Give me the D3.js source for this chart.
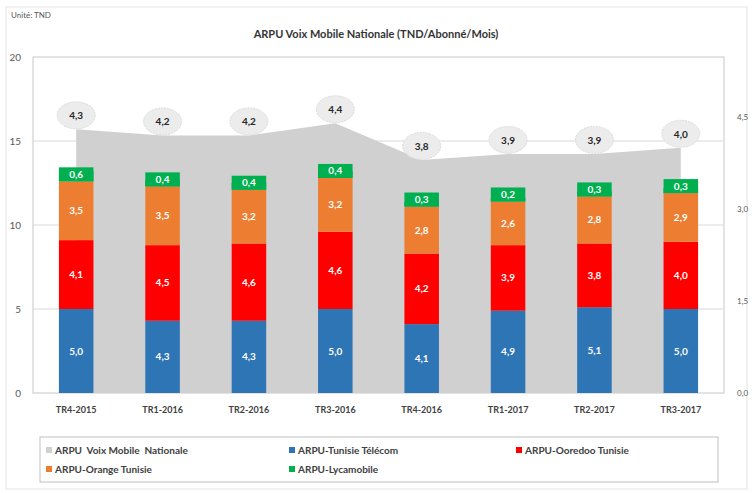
<!DOCTYPE html>
<html>
<head>
<meta charset="utf-8">
<script src="https://cdn.jsdelivr.net/npm/d3@7"></script>
<style>
  body { margin: 0; background: #fff; }
  svg { font-family: Lato, "Open Sans", sans-serif; }
</style>
</head>
<body>
<svg id="chart"></svg>
<script>
const width = 752;
const height = 493;

const quarters = ['TR4-2015', 'TR1-2016', 'TR2-2016', 'TR3-2016', 'TR4-2016', 'TR1-2017', 'TR2-2017', 'TR3-2017'];
const nationale = [4.3, 4.2, 4.2, 4.4, 3.8, 3.9, 3.9, 4.0];
const tunisieTelecom = [5.0, 4.3, 4.3, 5.0, 4.1, 4.9, 5.1, 5.0];
const ooredoo = [4.1, 4.5, 4.6, 4.6, 4.2, 3.9, 3.8, 4.0];
const orange = [3.5, 3.5, 3.2, 3.2, 2.8, 2.6, 2.8, 2.9];
const lycamobile = [0.6, 0.4, 0.4, 0.4, 0.3, 0.2, 0.3, 0.3];
const leftTicks = [0, 5, 10, 15, 20];
const rightTicks = [0, 1.5, 3.0, 4.5];

const series = [
    {name: 'ARPU-Tunisie Télécom', values: tunisieTelecom, color: '#2e75b6'},
    {name: 'ARPU-Ooredoo Tunisie', values: ooredoo, color: '#ff0000'},
    {name: 'ARPU-Orange Tunisie', values: orange, color: '#ed7d31'},
    {name: 'ARPU-Lycamobile', values: lycamobile, color: '#00b050'}
];

const fmt = v => d3.format('.1f')(v).replace('.', ',');

const svg = d3.select('#chart')
            .attr('width', width)
            .attr('height', height);

// outer border
svg.append('rect')
    .attr('x', 6).attr('y', 7)
    .attr('width', 741).attr('height', 482)
    .attr('fill', '#fff')
    .attr('stroke', '#e3e3e3');

svg.append('text')
    .attr('x', 11).attr('y', 18)
    .attr('font-size', 8)
    .attr('fill', '#595959')
    .text('Unité: TND');

svg.append('text')
    .attr('x', 376).attr('y', 38)
    .attr('text-anchor', 'middle')
    .attr('font-size', 11)
    .attr('font-weight', 'bold')
    .attr('fill', '#333')
    .text('ARPU Voix Mobile Nationale (TND/Abonné/Mois)');

const x = d3.scaleBand()
    .domain(quarters)
    .range([33, 724])
    .paddingInner(0.6)
    .paddingOuter(0.3);

const y = d3.scaleLinear().domain([0, 20]).range([393, 57]);
const yRight = d3.scaleLinear().domain([0, 5.48]).range([393, 57]);

// plot frame
svg.append('rect')
    .attr('x', 33).attr('y', 57)
    .attr('width', 691).attr('height', 336)
    .attr('fill', 'none')
    .attr('stroke', '#c8c8c8');

// gridlines
svg.append('g')
    .selectAll('line')
    .data(leftTicks.slice(1, -1))
    .enter()
    .append('line')
    .attr('x1', 33).attr('x2', 724)
    .attr('y1', d => y(d)).attr('y2', d => y(d))
    .attr('stroke', '#d9d9d9');

// left axis
const leftAxis = svg.append('g')
    .attr('transform', 'translate(33, 0)')
    .call(d3.axisLeft(y).tickValues(leftTicks).tickSize(0).tickPadding(12));
leftAxis.select('.domain').remove();
leftAxis.selectAll('text').attr('font-size', 10).attr('fill', '#595959').attr('font-family', 'Lato, sans-serif');

// right axis
const rightAxis = svg.append('g')
    .attr('transform', 'translate(724, 0)')
    .call(d3.axisRight(yRight).tickValues(rightTicks).tickSize(0).tickPadding(13).tickFormat(d => fmt(d)));
rightAxis.select('.domain').remove();
rightAxis.selectAll('text').attr('font-size', 8).attr('fill', '#595959').attr('font-family', 'Lato, sans-serif');

// area
const cx = d => x(d) + x.bandwidth() / 2;
const areaData = quarters.map((q, i) => ({q: q, v: nationale[i]}));

svg.append('path')
    .datum(areaData)
    .attr('fill', '#d0d0d0')
    .attr('d', d3.area()
        .x(d => cx(d.q))
        .y0(yRight(0))
        .y1(d => yRight(d.v)));

// stacked bars
const stackRows = quarters.map((q, i) => {
    const row = {q: q};
    series.forEach((s, k) => row[k] = s.values[i]);
    return row;
});
const stacked = d3.stack().keys(series.map((s, k) => k))(stackRows);

stacked.forEach((layer, k) => {
    const g = svg.append('g');
    g.selectAll('rect')
        .data(layer)
        .enter()
        .append('rect')
        .attr('x', d => x(d.data.q))
        .attr('y', d => y(d[1]))
        .attr('width', x.bandwidth())
        .attr('height', d => y(d[0]) - y(d[1]))
        .attr('fill', series[k].color);
    const last = k === series.length - 1;
    if (last) {
        // Lycamobile labels sit in a green box above the orange segment
        g.selectAll('rect.lbl')
            .data(layer)
            .enter()
            .append('rect')
            .attr('class', 'lbl')
            .attr('x', d => x(d.data.q))
            .attr('y', d => y(d[0]) - 14)
            .attr('width', x.bandwidth())
            .attr('height', 14)
            .attr('fill', series[k].color);
    }
    g.selectAll('text')
        .data(layer)
        .enter()
        .append('text')
        .attr('x', d => cx(d.data.q))
        .attr('y', d => last ? y(d[0]) - 3.5 : (y(d[0]) + y(d[1])) / 2 + 3.5)
        .attr('text-anchor', 'middle')
        .attr('font-size', 10)
        .attr('font-weight', 'bold')
        .attr('fill', '#fff')
        .text(d => fmt(d[1] - d[0]));
});

// bubble labels for national ARPU
const bubbles = svg.append('g')
    .selectAll('g')
    .data(areaData)
    .enter()
    .append('g')
    .attr('transform', d => `translate(${cx(d.q)}, ${yRight(d.v) - 14})`);
bubbles.append('ellipse')
    .attr('rx', 19).attr('ry', 13.5)
    .attr('fill', '#ececec')
    .attr('stroke', '#dcdcdc')
    .attr('stroke-dasharray', '2,1');
bubbles.append('text')
    .attr('y', 4)
    .attr('text-anchor', 'middle')
    .attr('font-size', 10)
    .attr('font-weight', 'bold')
    .attr('fill', '#262626')
    .text(d => fmt(d.v));

// x labels
svg.append('g')
    .selectAll('text')
    .data(quarters)
    .enter()
    .append('text')
    .attr('x', d => cx(d))
    .attr('y', 413)
    .attr('text-anchor', 'middle')
    .attr('font-size', 9)
    .attr('font-weight', 'bold')
    .attr('fill', '#404040')
    .text(d => d);

// legend
svg.append('rect')
    .attr('x', 40).attr('y', 437)
    .attr('width', 678).attr('height', 45)
    .attr('fill', '#fff')
    .attr('stroke', '#bfbfbf');

const legendItems = [
    {name: 'ARPU  Voix Mobile  Nationale', color: '#d0d0d0', lx: 46, ly: 451},
    {name: series[0].name, color: series[0].color, lx: 289, ly: 451},
    {name: series[1].name, color: series[1].color, lx: 516, ly: 451},
    {name: series[2].name, color: series[2].color, lx: 46, ly: 470},
    {name: series[3].name, color: series[3].color, lx: 289, ly: 470}
];
const legend = svg.append('g')
    .selectAll('g')
    .data(legendItems)
    .enter()
    .append('g')
    .attr('transform', d => `translate(${d.lx}, ${d.ly})`);
legend.append('rect')
    .attr('x', 0).attr('y', -4)
    .attr('width', 6).attr('height', 6)
    .attr('fill', d => d.color);
legend.append('text')
    .attr('x', 9).attr('y', 3)
    .attr('font-size', 10)
    .attr('font-weight', 'bold')
    .attr('fill', '#404040')
    .attr('xml:space', 'preserve')
    .style('white-space', 'pre')
    .text(d => d.name);
</script>
</body>
</html>
